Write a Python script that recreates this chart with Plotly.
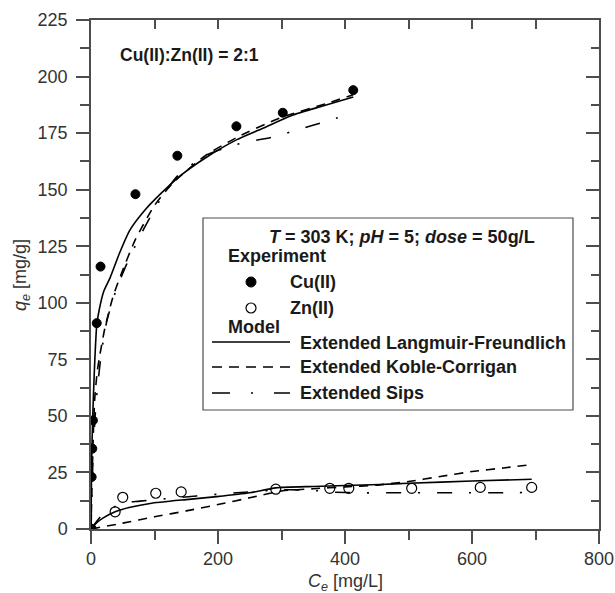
import plotly.graph_objects as go

# ---------------- data ----------------
cu_ce = [0, 1, 2, 3, 9, 15, 70, 136, 229, 302, 413]
cu_qe = [0, 23, 35.5, 48, 91, 116, 148, 165, 178, 184, 194]

zn_ce = [0, 38, 50, 102, 142, 291, 376, 406, 505, 613, 694]
zn_qe = [0, 7.6, 14, 15.8, 16.4, 17.6, 18, 18, 18, 18.4, 18.4]

# model curves, Cu(II)
cu_lf_ce = [0, 1, 2, 3, 5, 9, 13, 20, 30, 45, 61, 85, 109, 140, 180, 229, 270, 318, 365, 413]
cu_lf_qe = [0, 30, 42, 52, 68, 90, 97, 105, 111, 122, 132, 141, 148, 156, 164, 172, 177, 183, 187, 191]
cu_kc_ce = [0, 2, 4, 6, 10, 14, 22, 35, 48, 70, 100, 129, 180, 229, 300, 370, 413]
cu_kc_qe = [0, 25, 45, 58, 70, 77, 89, 103, 113, 128, 143, 153, 165, 173, 182, 188, 192]
cu_sips_ce = [0, 3, 6, 10, 16, 25, 40, 56, 80, 110, 136, 180, 229, 290, 328, 368, 413]
cu_sips_qe = [0, 30, 48, 62, 77, 92, 106, 117, 131, 146, 156, 165, 170, 173.5, 176.7, 180, 184]

# model curves, Zn(II)
zn_lf_ce = [0, 10, 20, 38, 60, 93, 150, 198, 250, 291, 350, 400, 455, 500, 600, 694]
zn_lf_qe = [0, 3, 5, 7.6, 9.5, 11.3, 13, 14.3, 16, 18.2, 18.8, 19.2, 19.7, 20.2, 21.2, 22]
zn_kc_ce = [0, 50, 100, 150, 200, 250, 300, 350, 400, 450, 500, 550, 600, 650, 694]
zn_kc_qe = [0, 2.6, 5.4, 8, 10.8, 13.8, 16.8, 17.8, 18.6, 19.4, 21, 23.2, 25.4, 27, 28.5]
zn_sips_ce = [0, 20, 50, 77, 122, 166, 230, 300, 345, 380, 420, 465, 500, 591, 653, 694]
zn_sips_qe = [0, 7, 11.5, 12.3, 13.5, 14.6, 16, 17.3, 17.2, 16.3, 16, 16, 16, 16, 16, 16.2]

x_ticks = [0, 200, 400, 600, 800]
y_ticks = [0, 25, 50, 75, 100, 125, 150, 175, 200, 225]

series_names = ["Cu(II)", "Zn(II)"]
model_names = ["Extended Langmuir-Freundlich", "Extended Koble-Corrigan", "Extended Sips"]
legend_title = "<i>T</i> = 303 K; <i>pH</i> = 5; <i>dose</i> = 50g/L"
panel_label = "Cu(II):Zn(II) = 2:1"
x_title = "<i>C</i><sub><i>e</i></sub> [mg/L]"
y_title = "<i>q</i><sub><i>e</i></sub> [mg/g]"

# ---------------- style ----------------
FONT = "Liberation Sans, Arial, sans-serif"
AX = "#4d4d4d"
TXT = "#333333"
INK = "#1a1a1a"
KC_DASH = "9px,7px"
SIPS_DASH = "15px,17px,2px,17px"
dashes = ["solid", KC_DASH, SIPS_DASH]
legend_dashes = ["solid", "10px,7px", "18px,21px,2px,21px"]

fig = go.Figure()

fig.add_trace(go.Scatter(x=cu_ce, y=cu_qe, mode="markers", name=series_names[0],
                         marker=dict(symbol="circle", size=9, color="black",
                                     line=dict(color="black", width=1))))
fig.add_trace(go.Scatter(x=zn_ce, y=zn_qe, mode="markers", name=series_names[1],
                         marker=dict(symbol="circle-open", size=10, color="black",
                                     line=dict(color="black", width=1.2))))

curves = [
    (cu_lf_ce, cu_lf_qe, zn_lf_ce, zn_lf_qe),
    (cu_kc_ce, cu_kc_qe, zn_kc_ce, zn_kc_qe),
    (cu_sips_ce, cu_sips_qe, zn_sips_ce, zn_sips_qe),
]
for (cx, cy, zx, zy), dash, name in zip(curves, dashes, model_names):
    for xs, ys in ((cx, cy), (zx, zy)):
        fig.add_trace(go.Scatter(x=xs, y=ys, mode="lines", name=name,
                                 line=dict(color="black", width=1.6, dash=dash,
                                           shape="spline", smoothing=0.6)))

# empty traces that activate the mirrored (top / right) axes with inward ticks
fig.add_trace(go.Scatter(x=[], y=[], xaxis="x2", yaxis="y", hoverinfo="skip"))
fig.add_trace(go.Scatter(x=[], y=[], xaxis="x", yaxis="y2", hoverinfo="skip"))

# ---------------- legend box (drawn in paper coordinates) ----------------
L, R, T, B = 91, 599, 20, 529          # plot area in pixels


def px(xp):
    return (xp - L) / (R - L)


def py(yp):
    return (B - yp) / (B - T)


shapes = [dict(type="rect", xref="paper", yref="paper",
               x0=px(203), x1=px(573), y0=py(410), y1=py(218),
               line=dict(color=AX, width=1.2), fillcolor="white", layer="above")]
# marker keys
for yy, filled in ((282, True), (308, False)):
    shapes.append(dict(type="circle", xref="paper", yref="paper",
                       xsizemode="pixel", ysizemode="pixel",
                       xanchor=px(251), yanchor=py(yy), x0=-5, x1=5, y0=-5, y1=5,
                       fillcolor="black" if filled else "white",
                       line=dict(color="black", width=1 if filled else 1.2), layer="above"))
# line keys
for yy, dash in zip((342, 367, 393), legend_dashes):
    shapes.append(dict(type="line", xref="paper", yref="paper",
                       x0=px(212), x1=px(290), y0=py(yy), y1=py(yy),
                       line=dict(color="black", width=1.6, dash=dash), layer="above"))

LEG_FONT = dict(family=FONT, size=18, color=INK, weight="bold")
AXT_FONT = dict(family=FONT, size=18, color=TXT)


def ann(text, x, y, anchor="left", font=LEG_FONT, angle=0):
    return dict(text=text, x=px(x), y=py(y), xref="paper", yref="paper",
                xanchor=anchor, yanchor="middle", showarrow=False, font=font,
                textangle=angle, borderpad=0)


annotations = [
    ann(legend_title, 402, 237, "center"),
    ann("Experiment", 227, 256),
    ann(series_names[0], 289, 282),
    ann(series_names[1], 289, 308),
    ann("Model", 227, 327),
    ann(model_names[0], 299, 343),
    ann(model_names[1], 299, 367),
    ann(model_names[2], 299, 393),
    ann(panel_label, 119, 55, "left", dict(family=FONT, size=17.5, color=INK, weight="bold")),
    ann(x_title, 345, 582, "center", AXT_FONT),
    ann(y_title, 21, 275, "center", AXT_FONT, -90),
]

fig.update_layout(
    width=615, height=593,
    margin=dict(l=L, r=615 - R, t=T, b=593 - B),
    paper_bgcolor="white", plot_bgcolor="white",
    font=dict(family=FONT, size=18, color=TXT),
    showlegend=False,
    xaxis=dict(
        range=[0, 800], tickvals=x_ticks, ticks="outside", ticklen=13, tickwidth=1.5,
        tickcolor=AX, showline=True, linecolor=AX, linewidth=1.5, showgrid=False,
        zeroline=False, ticklabelstandoff=0, automargin=False,
        minor=dict(dtick=100, ticks="outside", ticklen=9, tickwidth=1.5, tickcolor=AX, showgrid=False),
        tickfont=dict(size=18, color=TXT),
    ),
    yaxis=dict(
        range=[0, 225], tickvals=y_ticks, ticks="outside", ticklen=13, tickwidth=1.5,
        tickcolor=AX, showline=True, linecolor=AX, linewidth=1.5, showgrid=False,
        zeroline=False, ticklabelstandoff=5, automargin=False,
        minor=dict(dtick=12.5, ticks="outside", ticklen=9, tickwidth=1.5, tickcolor=AX, showgrid=False),
        tickfont=dict(size=18, color=TXT),
    ),
    xaxis2=dict(
        overlaying="x", side="top", anchor="y", range=[0, 800], dtick=100, tick0=0,
        ticks="inside", ticklen=9, tickwidth=1.5, tickcolor=AX, showticklabels=False,
        showline=True, linecolor=AX, linewidth=1.5, showgrid=False, zeroline=False,
        automargin=False,
    ),
    yaxis2=dict(
        overlaying="y", side="right", anchor="x", range=[0, 225], dtick=25, tick0=0,
        ticks="inside", ticklen=13, tickwidth=1.5, tickcolor=AX, showticklabels=False,
        showline=True, linecolor=AX, linewidth=1.5, showgrid=False, zeroline=False,
        automargin=False,
        minor=dict(dtick=12.5, ticks="inside", ticklen=8, tickwidth=1.5, tickcolor=AX, showgrid=False),
    ),
    shapes=shapes,
    annotations=annotations,
)

fig.write_html("out.html")
